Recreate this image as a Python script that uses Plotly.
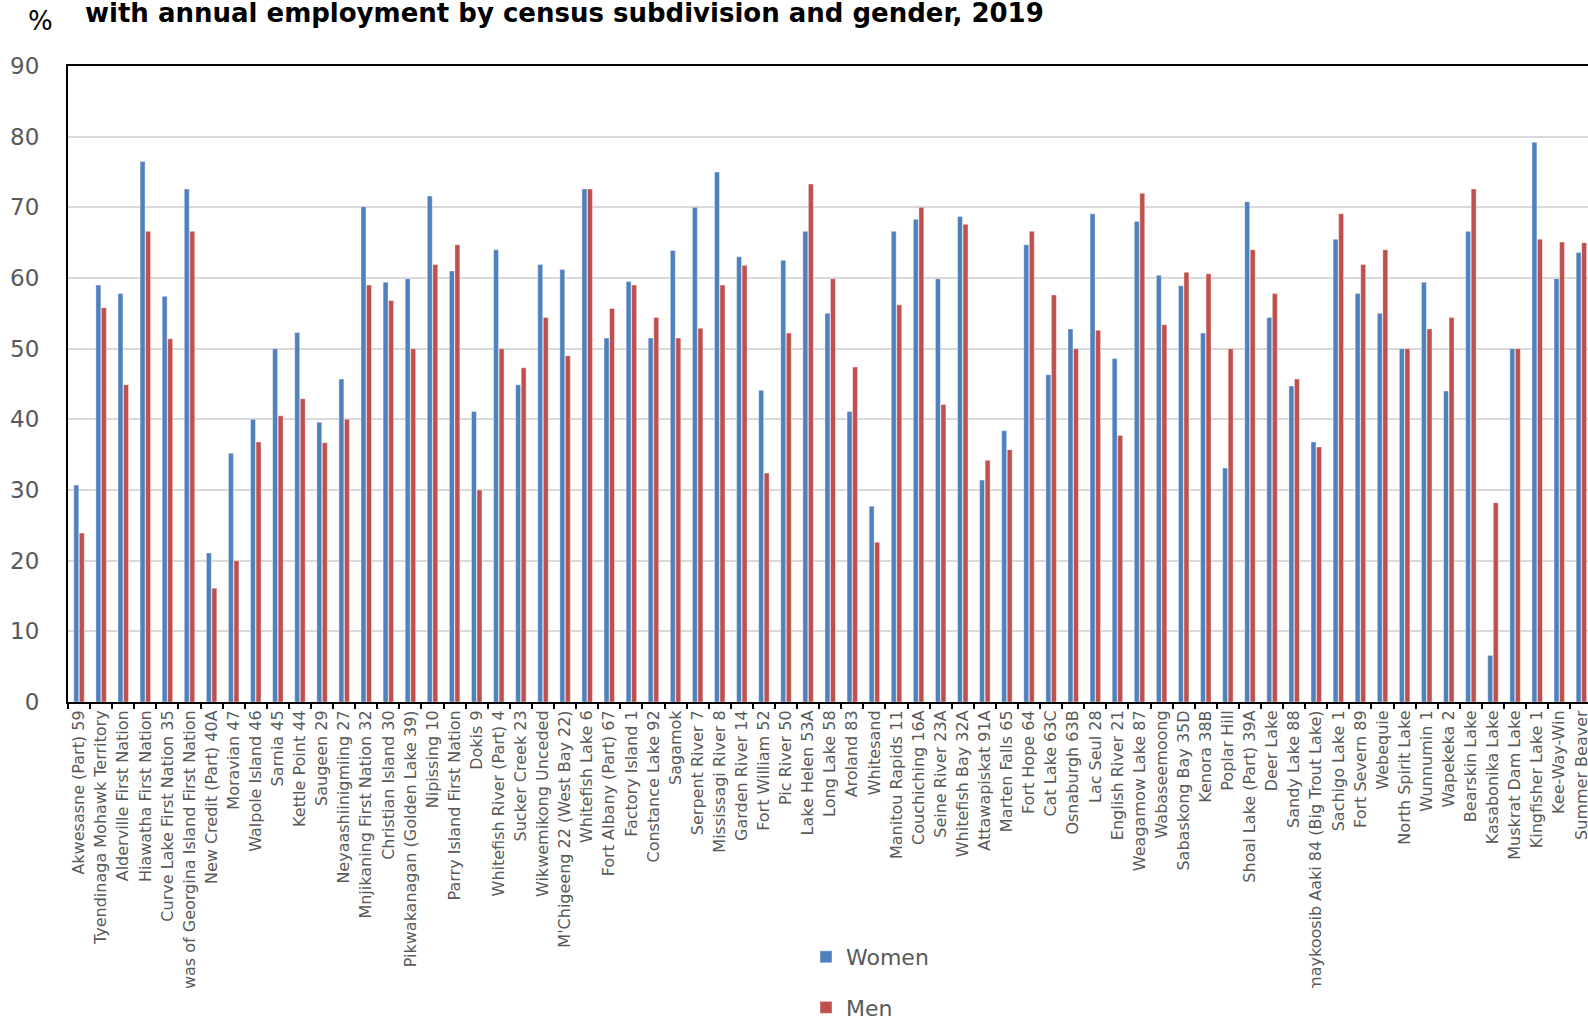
import plotly.graph_objects as go

categories = [
    "Akwesasne (Part) 59", "Tyendinaga Mohawk Territory", "Alderville First Nation",
    "Hiawatha First Nation", "Curve Lake First Nation 35",
    "Chippewas of Georgina Island First Nation", "New Credit (Part) 40A", "Moravian 47",
    "Walpole Island 46", "Sarnia 45", "Kettle Point 44", "Saugeen 29",
    "Neyaashiinigmiing 27", "Mnjikaning First Nation 32", "Christian Island 30",
    "Pikwakanagan (Golden Lake 39)", "Nipissing 10", "Parry Island First Nation",
    "Dokis 9", "Whitefish River (Part) 4", "Sucker Creek 23", "Wikwemikong Unceded",
    "M'Chigeeng 22 (West Bay 22)", "Whitefish Lake 6", "Fort Albany (Part) 67",
    "Factory Island 1", "Constance Lake 92", "Sagamok", "Serpent River 7",
    "Mississagi River 8", "Garden River 14", "Fort William 52", "Pic River 50",
    "Lake Helen 53A", "Long Lake 58", "Aroland 83", "Whitesand", "Manitou Rapids 11",
    "Couchiching 16A", "Seine River 23A", "Whitefish Bay 32A", "Attawapiskat 91A",
    "Marten Falls 65", "Fort Hope 64", "Cat Lake 63C", "Osnaburgh 63B", "Lac Seul 28",
    "English River 21", "Weagamow Lake 87", "Wabaseemoong", "Sabaskong Bay 35D",
    "Kenora 38B", "Poplar Hill", "Shoal Lake (Part) 39A", "Deer Lake", "Sandy Lake 88",
    "Kitchenuhmaykoosib Aaki 84 (Big Trout Lake)", "Sachigo Lake 1", "Fort Severn 89",
    "Webequie", "North Spirit Lake", "Wunnumin 1", "Wapekeka 2", "Bearskin Lake",
    "Kasabonika Lake", "Muskrat Dam Lake", "Kingfisher Lake 1", "Kee-Way-Win",
    "Summer Beaver",
]

women = [
    30.7, 59.0, 57.8, 76.5, 57.4, 72.6, 21.1, 35.2, 40.0, 50.0,
    52.3, 39.6, 45.7, 70.1, 59.4, 59.9, 71.6, 61.0, 41.1, 64.0,
    44.9, 61.9, 61.2, 72.6, 51.5, 59.5, 51.5, 63.9, 70.0, 75.0,
    63.0, 44.1, 62.5, 66.6, 55.0, 41.1, 27.7, 66.6, 68.3, 59.9,
    68.7, 31.4, 38.4, 64.7, 46.3, 52.8, 69.1, 48.6, 68.0, 60.4,
    58.9, 52.2, 33.1, 70.8, 54.4, 44.7, 36.8, 65.5, 57.8, 55.0,
    50.0, 59.4, 44.0, 66.6, 6.6, 50.0, 79.2, 59.9, 63.6,
]

men = [
    23.9, 55.8, 44.9, 66.6, 51.4, 66.6, 16.1, 20.0, 36.8, 40.5,
    42.9, 36.7, 40.0, 59.0, 56.8, 50.0, 61.9, 64.7, 30.0, 50.0,
    47.3, 54.4, 49.0, 72.6, 55.7, 59.0, 54.4, 51.5, 52.9, 59.0,
    61.8, 32.4, 52.2, 73.3, 59.9, 47.4, 22.6, 56.2, 70.0, 42.1,
    67.6, 34.2, 35.7, 66.6, 57.6, 50.0, 52.6, 37.7, 72.0, 53.4,
    60.8, 60.6, 50.0, 64.0, 57.8, 45.7, 36.1, 69.1, 61.9, 64.0,
    50.0, 52.8, 54.4, 72.6, 28.2, 50.0, 65.5, 65.1, 65.0,
]

y_ticks = [0, 10, 20, 30, 40, 50, 60, 70, 80, 90]

title_text = "with annual employment by census subdivision and gender, 2019"
unit_text = "%"

GRAY = "#595959"
FONT = "DejaVu Sans"

fig = go.Figure()
fig.add_trace(go.Bar(
    x=categories, y=women, name="Women", legendgroup="w",
    marker=dict(color="#4f81bd", line=dict(color="#ffffff", width=0.4)),
))
fig.add_trace(go.Bar(
    x=categories, y=men, name="Men", legendgroup="m",
    marker=dict(color="#c0504d", line=dict(color="#ffffff", width=0.4)),
))

W, H = 1588, 1023
L, T, B = 68, 66, 321
plot_h = H - T - B

fig.update_layout(
    width=W, height=H,
    margin=dict(l=L, r=0, t=T, b=B, pad=0, autoexpand=False),
    paper_bgcolor="white", plot_bgcolor="white",
    barmode="group", bargap=0.5, bargroupgap=0.1,
    font=dict(family=FONT, color=GRAY),
    showlegend=True,
    legend=dict(
        xref="container", yref="container",
        x=806 / W, y=1 - 936 / H, xanchor="left", yanchor="top",
        orientation="v", traceorder="grouped", tracegroupgap=19,
        font=dict(family=FONT, size=22, color=GRAY),
        bgcolor="rgba(0,0,0,0)",
    ),
    title=dict(
        text="<b>" + title_text + "</b>",
        xref="container", yref="container",
        x=85 / W, xanchor="left", y=1 - 13 / H, yanchor="middle",
        font=dict(family=FONT, size=26, color="#000000"),
    ),
)

fig.update_xaxes(
    type="category",
    range=[-0.5, 68.3],
    showline=True, linecolor="#000000", linewidth=2, mirror=True,
    ticks="outside", tickson="boundaries", ticklen=5, tickwidth=2, tickcolor="#000000",
    tickangle=-90,
    tickfont=dict(family=FONT, size=16, color=GRAY),
    showgrid=False,
)

fig.update_yaxes(
    range=[0, 90],
    tickvals=y_ticks,
    ticktext=[str(v) for v in y_ticks],
    showline=True, linecolor="#000000", linewidth=2,
    ticks="", ticklabelstandoff=22,
    tickfont=dict(family=FONT, size=23, color=GRAY),
    showgrid=True, gridcolor="#d9d9d9", gridwidth=1.5,
    zeroline=False,
)

fig.add_annotation(
    text=unit_text, xref="paper", yref="paper",
    x=(40 - L) / (W - L), y=1 + (T - 21) / plot_h,
    xanchor="center", yanchor="middle", showarrow=False,
    font=dict(family=FONT, size=26, color="#000000"),
)

# the original chart clips the long category labels near the bottom
fig.add_shape(
    type="rect", xref="paper", yref="paper", layer="above",
    x0=-0.1, x1=1.1, y0=-(H - (T + plot_h)) / plot_h - 0.1, y1=-(988 - (T + plot_h)) / plot_h,
    fillcolor="white", line=dict(width=0),
)

fig.write_html("out.html")
